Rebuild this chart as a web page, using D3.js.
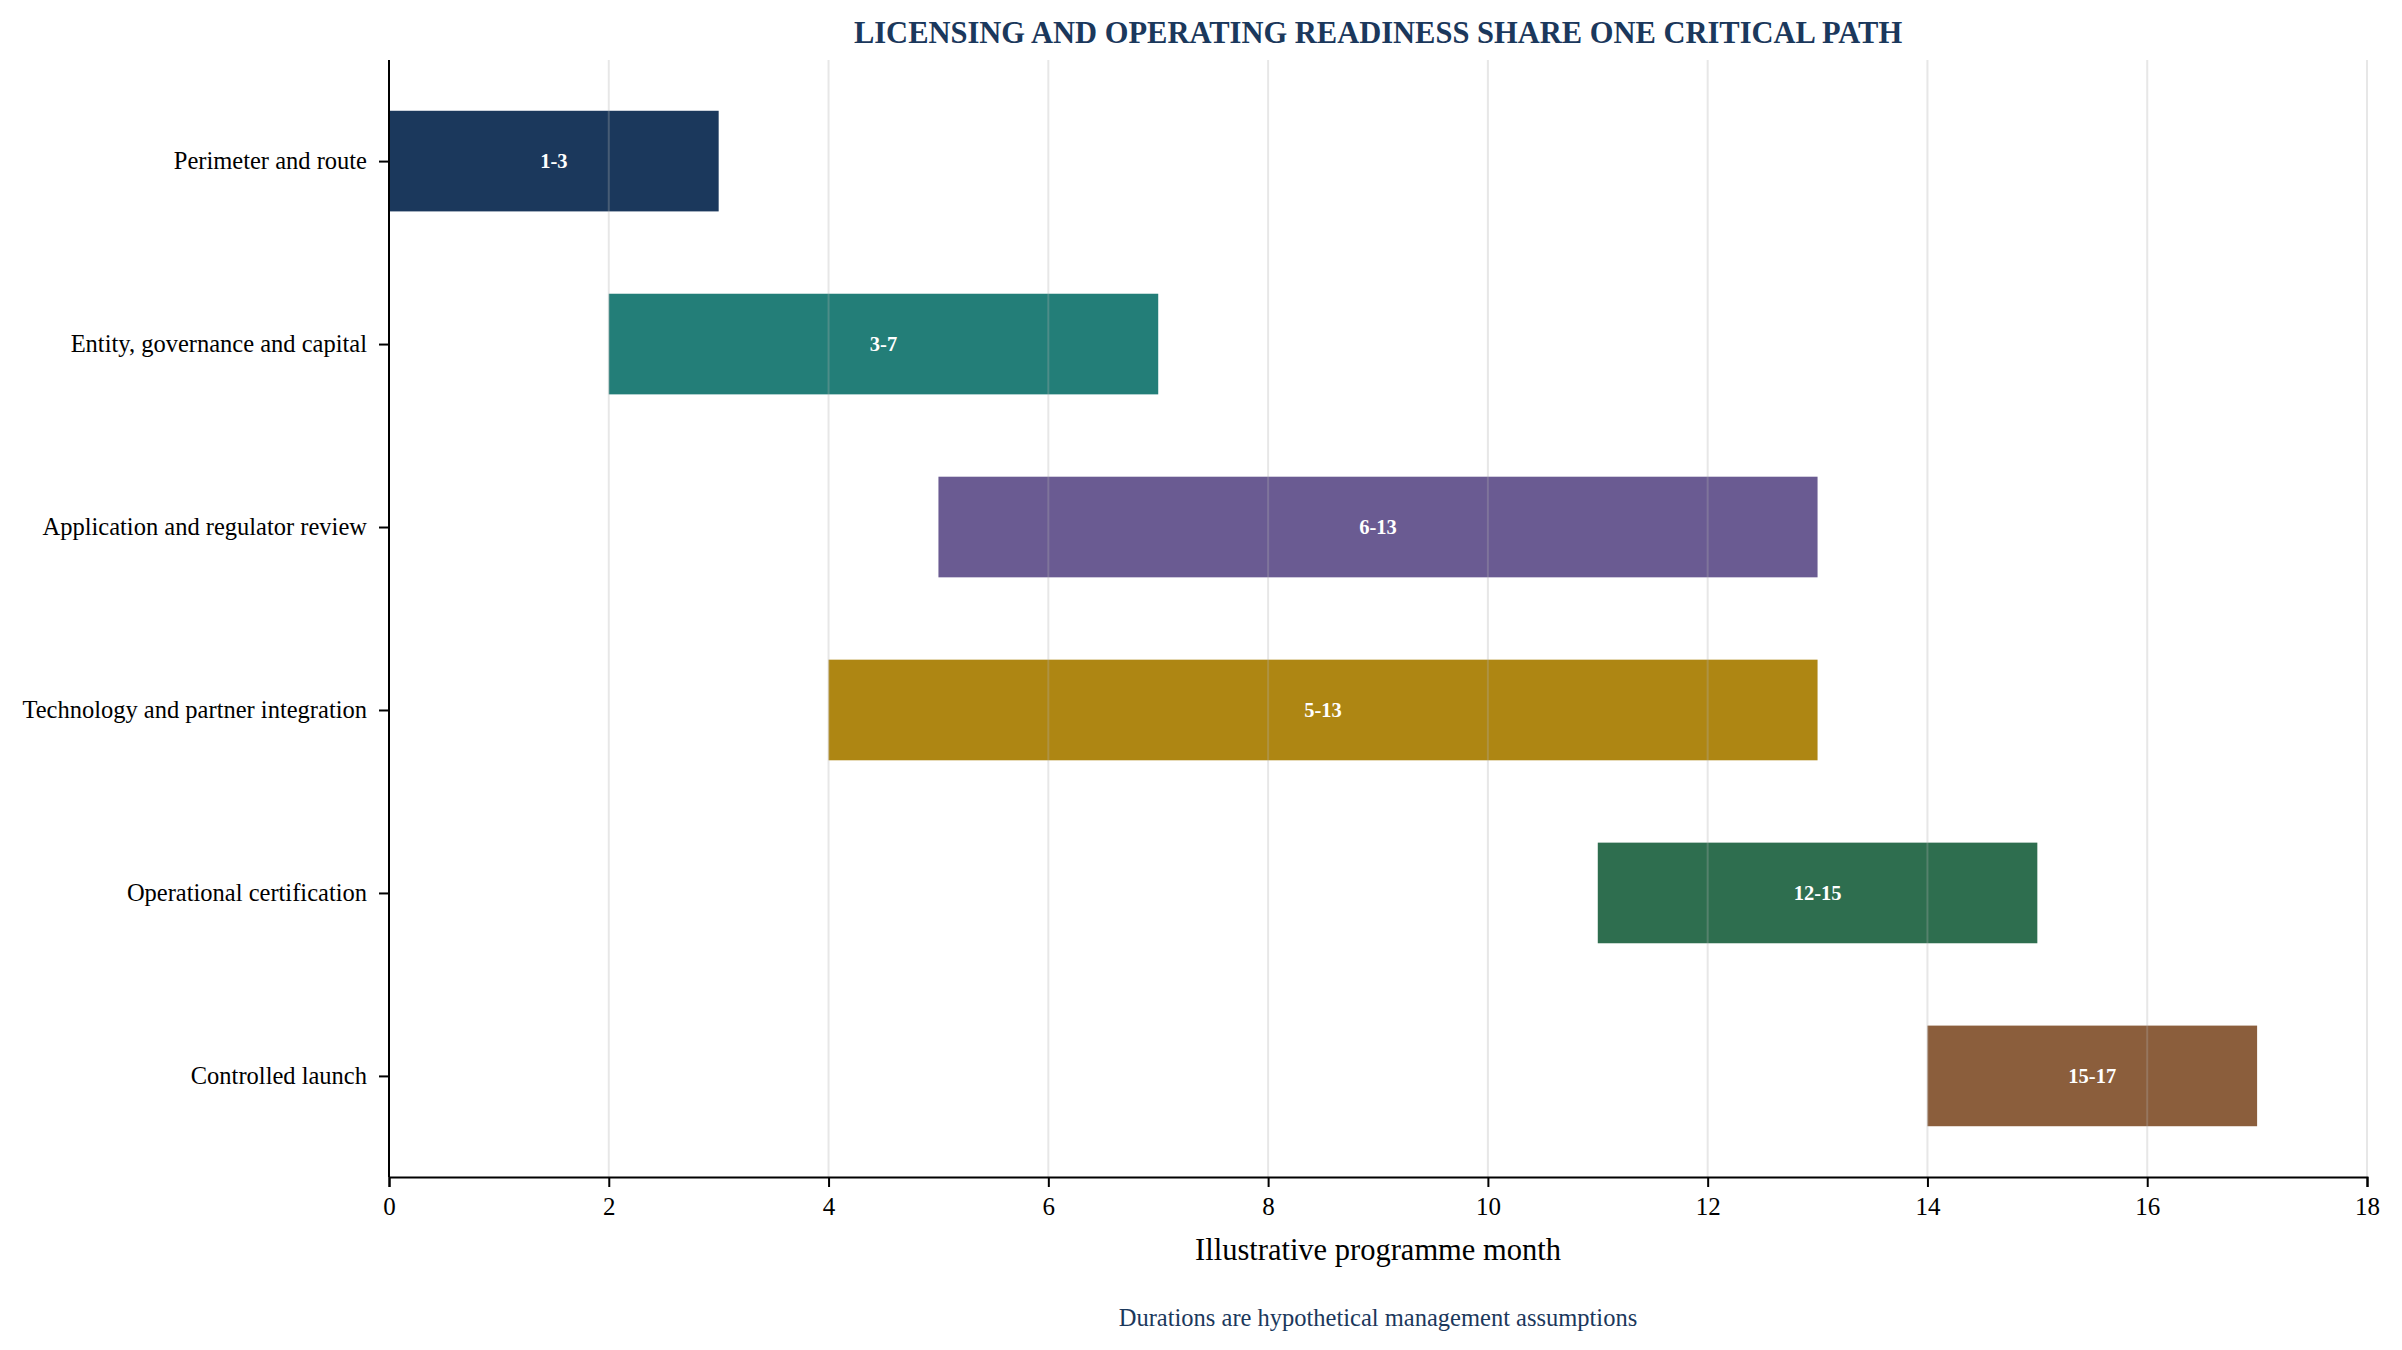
<!DOCTYPE html>
<html>
<head>
<meta charset="utf-8">
<script src="https://cdn.jsdelivr.net/npm/d3@7"></script>
<style>
html,body{margin:0;padding:0;background:#fff;}
svg{display:block;}
text{font-family:"Liberation Serif","Times New Roman",serif;}
</style>
</head>
<body>
<svg id="chart" width="2402" height="1350"></svg>
<script>
const categories = ["Perimeter and route","Entity, governance and capital","Application and regulator review","Technology and partner integration","Operational certification","Controlled launch"];
const starts = [0, 2, 5, 4, 11, 14];
const ends = [3, 7, 13, 13, 15, 17];
const labels = ["1-3","3-7","6-13","5-13","12-15","15-17"];
const colors = ["#1b385c","#237e78","#6a5b92","#ae8613","#2e6e4f","#8b5e3c"];
const xTicks = [0,2,4,6,8,10,12,14,16,18];

const W = 2402, H = 1350;
const m = {left:389, right:2402-2367, top:60, bottom:1350-1177};
const svg = d3.select("#chart");
const x = d3.scaleLinear().domain([0,18]).range([m.left, W-m.right]);
const barH = 0.55;
const y = d3.scaleLinear().domain([-0.5525, 5.5525]).range([m.top, H-m.bottom]);

// bars
const g = svg.append("g");
g.selectAll("rect").data(categories).join("rect")
  .attr("x",(d,i)=>x(starts[i]))
  .attr("width",(d,i)=>x(ends[i])-x(starts[i]))
  .attr("y",(d,i)=>y(i-barH/2))
  .attr("height",(d,i)=>y(i+barH/2)-y(i-barH/2))
  .attr("fill",(d,i)=>colors[i]);

// grid on top
svg.append("g").selectAll("line").data(xTicks.filter(t=>t>0)).join("line")
  .attr("x1",d=>x(d)).attr("x2",d=>x(d))
  .attr("y1",m.top).attr("y2",H-m.bottom)
  .attr("stroke","#b0b0b0").attr("stroke-opacity",0.3).attr("stroke-width",2);

// bar labels
g.selectAll("text.bl").data(categories).join("text").attr("class","bl")
  .attr("x",(d,i)=>x((starts[i]+ends[i])/2))
  .attr("y",(d,i)=>y(i))
  .attr("dy","0.35em")
  .attr("text-anchor","middle")
  .attr("fill","#ffffff").attr("font-weight","bold").attr("font-size","20.5px")
  .text((d,i)=>labels[i]);

// axes
const xAxis = d3.axisBottom(x).tickValues(xTicks).tickFormat(d3.format("d")).tickSize(10).tickPadding(10);
const xg = svg.append("g").attr("transform",`translate(0,${H-m.bottom})`).call(xAxis);
xg.select(".domain").attr("stroke","#000").attr("stroke-width",2);
xg.selectAll(".tick line").attr("stroke","#000").attr("stroke-width",2);
xg.selectAll(".tick text").attr("font-size","25px").attr("fill","#000").attr("font-family","Liberation Serif");

const yAxis = d3.axisLeft(y).tickValues(d3.range(categories.length)).tickFormat(i=>categories[i]).tickSize(10).tickPadding(12);
const yg = svg.append("g").attr("transform",`translate(${m.left},0)`).call(yAxis);
yg.select(".domain").attr("stroke","#000").attr("stroke-width",2).attr("d",`M0,${m.top}V${H-m.bottom}`);
yg.selectAll(".tick line").attr("stroke","#000").attr("stroke-width",2);
yg.selectAll(".tick text").attr("font-size","24.5px").attr("fill","#000").attr("font-family","Liberation Serif");

// title
svg.append("text").attr("x",(m.left + W-m.right)/2).attr("y",43)
  .attr("text-anchor","middle").attr("font-weight","bold").attr("font-size","30.5px").attr("fill","#1b385c")
  .text("LICENSING AND OPERATING READINESS SHARE ONE CRITICAL PATH");

// x label
svg.append("text").attr("x",(m.left + W-m.right)/2).attr("y",1249).attr("dy","0.35em")
  .attr("text-anchor","middle").attr("font-size","30.5px").attr("fill","#000")
  .text("Illustrative programme month");

// footer
svg.append("text").attr("x",(m.left + W-m.right)/2).attr("y",1317).attr("dy","0.35em")
  .attr("text-anchor","middle").attr("font-size","24.5px").attr("fill","#1b385c")
  .text("Durations are hypothetical management assumptions");
</script>
</body>
</html>
